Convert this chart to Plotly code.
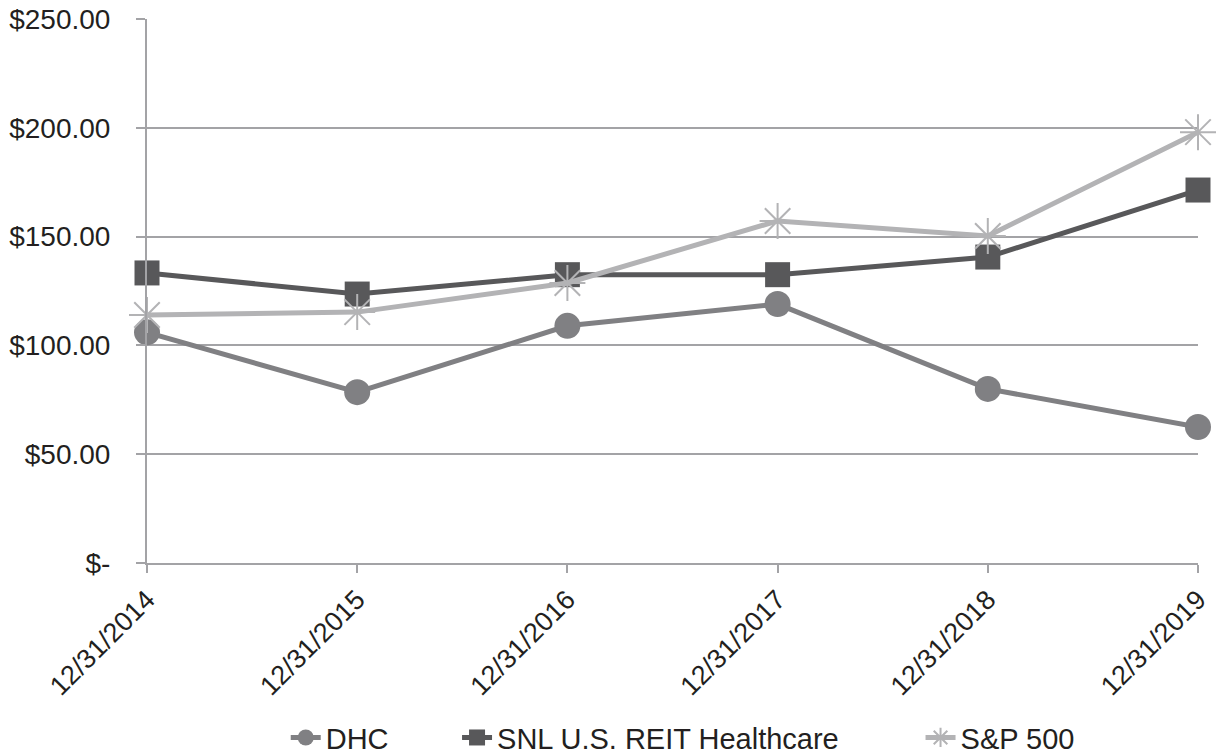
import plotly.graph_objects as go

categories = ["12/31/2014", "12/31/2015", "12/31/2016", "12/31/2017", "12/31/2018", "12/31/2019"]
dhc = [106.0, 78.5, 109.0, 119.0, 80.0, 62.5]
snl = [133.3, 123.6, 132.5, 132.5, 140.6, 171.4]
sp500 = [114.0, 115.3, 128.7, 157.2, 150.3, 198.0]

y_tickvals = [0, 50, 100, 150, 200, 250]
y_ticktext = ["$-", "$50.00", "$100.00", "$150.00", "$200.00", "$250.00"]

FONT = "Liberation Sans, Arial, Helvetica, sans-serif"
TXT = "#231f20"
GRID = "#a3a3a6"
LEG_Y = -0.321

fig = go.Figure()
fig.add_trace(go.Scatter(
    x=categories, y=dhc, name="DHC", mode="lines+markers",
    line=dict(color="#808083", width=5),
    marker=dict(symbol="circle", size=26, color="#808083"),
    cliponaxis=False, legend="legend",
))
fig.add_trace(go.Scatter(
    x=categories, y=snl, name="SNL U.S. REIT Healthcare", mode="lines+markers",
    line=dict(color="#58585a", width=5),
    marker=dict(symbol="square", size=25, color="#58585a"),
    cliponaxis=False, legend="legend2",
))
fig.add_trace(go.Scatter(
    x=categories, y=sp500, name="S&P 500", mode="lines+markers",
    line=dict(color="#b3b3b5", width=5),
    marker=dict(symbol="asterisk-open", size=30, color="#b3b3b5",
                line=dict(color="#b3b3b5", width=2)),
    cliponaxis=False, legend="legend3",
))

leg_common = dict(orientation="h", xanchor="left", y=LEG_Y, yanchor="middle",
                  font=dict(family=FONT, size=29, color=TXT),
                  bgcolor="rgba(0,0,0,0)")

fig.update_layout(
    width=1218, height=756,
    margin=dict(l=147, r=20, t=19, b=193, autoexpand=False),
    paper_bgcolor="white", plot_bgcolor="white",
    font=dict(family=FONT, size=27, color=TXT),
    showlegend=True,
    legend=dict(x=0.132, **leg_common),
    legend2=dict(x=0.295, **leg_common),
    legend3=dict(x=0.736, **leg_common),
    xaxis=dict(
        type="category", range=[0, 5], automargin=False,
        tickangle=-45, showgrid=False,
        showline=True, linecolor=GRID, linewidth=2,
        ticks="outside", ticklen=8, tickcolor=GRID, tickwidth=2,
        tickfont=dict(family=FONT, size=27, color=TXT),
        zeroline=False, ticklabeloverflow="allow",
    ),
    yaxis=dict(
        range=[0, 250], tickvals=y_tickvals, ticktext=y_ticktext, automargin=False,
        showgrid=True, gridcolor=GRID, gridwidth=2,
        showline=True, linecolor=GRID, linewidth=2,
        ticks="outside", ticklen=9, tickcolor=GRID, tickwidth=2,
        tickfont=dict(family=FONT, size=28, color=TXT),
        zeroline=False, layer="above traces", ticklabelstandoff=20,
        ticklabeloverflow="allow",
    ),
)

fig.write_html("out.html", config={"displayModeBar": False},
               post_script="document.body.style.margin='0px';document.body.style.overflow='hidden';")
